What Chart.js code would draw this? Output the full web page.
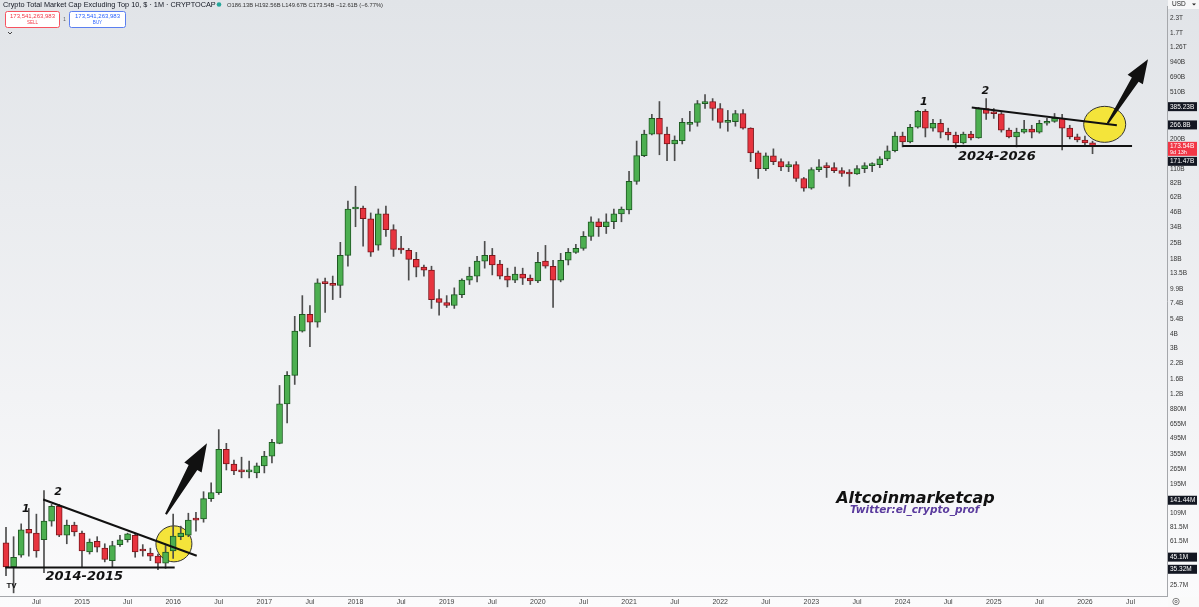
<!DOCTYPE html>
<html lang="en">
<head>
<meta charset="UTF-8">
<title>Crypto Total Market Cap Excluding Top 10</title>
<script src="https://cdn.jsdelivr.net/npm/chart.js"></script>
<style>
  html, body { margin: 0; padding: 0; background: #fff; }
  #wrap { width: 1199px; height: 607px; }
</style>
</head>
<body>
<div id="wrap"><canvas id="chart" width="1199" height="607"></canvas></div>
<script>
// monthly candles, first one is March 2014, values in billions USD
const startYear = 2014;
const startMonth = 3;

const opens = [0.060,0.037,0.047,0.079,0.073,0.064,0.093,0.125,0.070,0.086,0.073,0.050,0.062,0.054,0.042,0.058,0.064,0.070,0.052,0.049,0.046,0.040,0.051,0.068,0.070,0.099,0.097,0.146,0.165,0.394,0.293,0.255,0.250,0.245,0.282,0.343,0.444,0.98,1.74,4.23,5.93,5.06,11.2,11.0,10.6,19.4,49.3,50.2,40.5,23.8,44.7,32.5,21.9,21.5,17.9,15.3,14.4,8.14,7.52,7.09,8.82,11.8,12.8,17.3,19.4,16.3,12.8,11.8,13.3,12.3,11.6,17.3,15.6,11.8,17.6,20.6,22.3,28.4,38.1,34.5,38.1,44.7,48.3,85.8,144,222,304,222,182,194,270,281,410,427,371,281,285,336,250,152,111,143.6,127.5,115,120,91,74.7,108.7,115,113,106.6,100.5,99.5,111,117.6,120,135,158.7,213.7,189.7,254.8,350,250,276,231,218,186,222,205.5,371,336,334,240,209.6,231,245,231,276,287,304,250,209.6,197,186.13];
const highs = [0.082,0.068,0.088,0.120,0.107,0.172,0.130,0.130,0.095,0.091,0.076,0.065,0.068,0.059,0.062,0.070,0.073,0.072,0.058,0.054,0.048,0.057,0.107,0.084,0.109,0.111,0.168,0.201,0.585,0.444,0.317,0.336,0.311,0.299,0.378,0.480,1.42,1.88,5.70,8.64,7.09,12.1,12.3,12.8,25.2,57.7,77.8,52.3,45.5,49.3,52.3,35.9,28.4,22.3,20.6,16.0,15.6,9.75,8.64,10.1,12.1,15.3,19.0,25.7,22.3,17.6,15.0,15.3,15.0,13.1,20.6,23.7,17.6,20.2,22.3,24.2,31.3,42.1,40.5,44.7,49.3,51.3,105,193,240,330,427,255,214,304,350,436,491,453,410,357,357,364,252,158,152,165,135,127.5,127.5,92.9,113,132.7,124.8,124.8,113,108.7,117.6,124.8,124.8,141,175,231,231,270,357,364,298,298,250,231,231,235,379,453,371,343,250,250,293,265,293,304,336,330,265,222,213,192.56];
const lows = [0.031,0.022,0.045,0.046,0.045,0.033,0.084,0.068,0.059,0.069,0.037,0.048,0.050,0.041,0.037,0.056,0.061,0.045,0.046,0.042,0.035,0.036,0.044,0.064,0.068,0.076,0.091,0.138,0.159,0.260,0.236,0.222,0.222,0.222,0.245,0.299,0.44,0.67,1.45,4.15,3.09,4.58,6.17,7.98,8.31,15.6,34.5,23.3,19.0,21.5,28.4,19.0,20.2,11.8,12.6,12.8,6.68,5.82,6.81,6.68,8.31,10.8,11.4,15.0,13.1,12.1,10.3,11.2,10.8,10.8,11.2,15.0,6.81,11.4,16.0,20.2,21.5,26.2,28.4,30.1,33.2,38.1,44.7,80.9,141,218,146.5,130,130,182,235,260,371,293,250,235,260,245,127.5,91,106.6,120,106.6,104.4,85.8,70.4,73.3,104.4,92.9,102.3,94.8,77.8,98.6,102.3,104.4,113,130,155,171.6,186,250,209.6,235,205.5,197,168.2,182,197,204,298,304,231,205.5,171.6,226,205.5,226,265,281,161.7,201.5,189.7,179,149.67];
const closes = [0.037,0.045,0.078,0.073,0.051,0.093,0.125,0.070,0.086,0.075,0.051,0.061,0.055,0.043,0.057,0.064,0.072,0.050,0.051,0.046,0.040,0.050,0.069,0.073,0.095,0.095,0.146,0.165,0.394,0.293,0.255,0.250,0.255,0.282,0.343,0.453,0.980,1.74,4.23,5.93,5.06,11.2,11.0,10.6,19.4,49.3,50.2,40.5,20.7,44.7,32.5,21.9,21.6,17.9,15.3,14.4,7.98,7.52,7.09,8.82,11.8,12.8,17.3,19.4,16.0,12.8,11.8,13.3,12.3,11.6,16.9,15.6,11.8,17.6,20.6,22.3,28.4,38.1,34.5,38.1,44.7,49.3,85.8,144,222,304,222,182,197,281,281,410,427,371,281,285,336,250,152,111,143.6,127.5,115,120,91,74.7,108.7,115,113,106.6,100.5,99.5,111,117.6,120,135,158.7,213.7,189.7,254.8,350,250,276,231,218,186,222,205.5,371,336,334,240,209.6,231,245,231,276,287,304,250,209.6,197,186.13,173.54];

const yTickValues = [2300,1700,1260,940,690,510,200,110,82,62,46,34,25,18,13.5,9.9,7.4,5.4,4,3,2.2,1.6,1.2,0.88,0.655,0.495,0.355,0.265,0.195,0.109,0.0815,0.0615,0.0257];
const yTickLabels = ['2.3T','1.7T','1.26T','940B','690B','510B','200B','110B','82B','62B','46B','34B','25B','18B','13.5B','9.9B','7.4B','5.4B','4B','3B','2.2B','1.6B','1.2B','880M','655M','495M','355M','265M','195M','109M','81.5M','61.5M','25.7M'];

const badgeValues = [385.23, 266.8, 173.54, 171.47, 0.14144, 0.0451, 0.03532];
const badgeLabels = ['385.23B','266.8B','173.54B','171.47B','141.44M','45.1M','35.32M'];
const badgeColors = ['#131722','#131722','#f23645','#131722','#131722','#131722','#131722'];

const UP = '#4caf50', UP_EDGE = '#1e5a22';
const DOWN = '#e8343f', DOWN_EDGE = '#7d161c';

const xTicks = [];
for (let i = 0; i <= 152; i++) {
    const m = (startMonth - 1 + i) % 12;
    if (m === 0 || m === 6) xTicks.push(i);
}
function xLabel(i) {
    const n = startMonth - 1 + i;
    return n % 12 === 0 ? String(startYear + n / 12) : 'Jul';
}

const isUp = closes.map((c, i) => c >= opens[i]);

Chart.defaults.font.family = "'Liberation Sans', Arial, sans-serif";

function arrow(ctx, x1, y1, x2, y2, w0, w1, headLen, headW) {
    const dx = x2 - x1, dy = y2 - y1, len = Math.hypot(dx, dy);
    const ux = dx / len, uy = dy / len, nx = -uy, ny = ux;
    const bx = x2 - ux * headLen, by = y2 - uy * headLen;
    ctx.beginPath();
    ctx.moveTo(x1 + nx * w0, y1 + ny * w0);
    ctx.lineTo(bx + nx * w1, by + ny * w1);
    ctx.lineTo(bx + nx * headW, by + ny * headW);
    ctx.lineTo(x2, y2);
    ctx.lineTo(bx - nx * headW, by - ny * headW);
    ctx.lineTo(bx - nx * w1, by - ny * w1);
    ctx.lineTo(x1 - nx * w0, y1 - ny * w0);
    ctx.closePath();
    ctx.fill();
}

const drawings = {
    id: 'drawings',
    beforeDraw(chart) {
        const ctx = chart.ctx;
        const g = ctx.createLinearGradient(0, 0, 0, chart.height);
        g.addColorStop(0, '#e1e4e8');
        g.addColorStop(1, '#fbfbfc');
        ctx.save();
        ctx.fillStyle = g;
        ctx.fillRect(0, 0, chart.width, chart.height);
        ctx.restore();
    },
    beforeDatasetsDraw(chart) {
        const ctx = chart.ctx, x = chart.scales.x, y = chart.scales.y;
        ctx.save();
        ctx.fillStyle = '#f4e43a';
        ctx.strokeStyle = '#333';
        ctx.lineWidth = 1;
        ctx.beginPath();
        ctx.ellipse(x.getPixelForValue(22.1), y.getPixelForValue(0.0589), 18, 18, 0, 0, Math.PI * 2);
        ctx.fill(); ctx.stroke();
        ctx.beginPath();
        ctx.ellipse(x.getPixelForValue(144.6), y.getPixelForValue(270), 21, 18, 0, 0, Math.PI * 2);
        ctx.fill(); ctx.stroke();
        ctx.restore();
    },
    afterDatasetsDraw(chart) {
        const ctx = chart.ctx, x = chart.scales.x, y = chart.scales.y;
        const P = (i, v) => [x.getPixelForValue(i), y.getPixelForValue(v)];
        ctx.save();
        ctx.strokeStyle = '#111';
        ctx.fillStyle = '#111';
        ctx.lineWidth = 2;
        const seg = (a, b) => {
            ctx.beginPath(); ctx.moveTo(a[0], a[1]); ctx.lineTo(b[0], b[1]); ctx.stroke();
        };
        // 2014-2015 triangle
        seg(P(4.9, 0.1435), P(25.1, 0.0464));
        seg(P(-0.1, 0.0367), P(22.2, 0.0367));
        // 2024-2026 triangle
        seg(P(127.1, 379), P(146.2, 265));
        seg(P(118.0, 175), P(148.2, 175));

        let a = P(21.05, 0.1067), b = P(26.45, 0.444);
        arrow(ctx, a[0], a[1], b[0], b[1], 1, 5, 28, 10);
        a = P(145.0, 276); b = P(150.3, 1000);
        arrow(ctx, a[0], a[1], b[0], b[1], 1, 4, 24, 9);

        ctx.textAlign = 'center';
        ctx.textBaseline = 'middle';
        ctx.font = "italic bold 13px 'DejaVu Sans'";
        let p = P(10.3, 0.0306); ctx.fillText('2014-2015', p[0], p[1]);
        p = P(130.4, 141); ctx.fillText('2024-2026', p[0], p[1]);
        ctx.font = "italic bold 11px 'DejaVu Sans'";
        p = P(2.6, 0.1178); ctx.fillText('1', p[0], p[1]);
        p = P(6.85, 0.168); ctx.fillText('2', p[0], p[1]);
        p = P(120.8, 418); ctx.fillText('1', p[0], p[1]);
        p = P(128.9, 531); ctx.fillText('2', p[0], p[1]);

        ctx.font = "italic bold 16px 'DejaVu Sans'";
        p = P(119.7, 0.146); ctx.fillText('Altcoinmarketcap', p[0], p[1]);
        ctx.fillStyle = '#5b3c9e';
        ctx.font = "italic bold 10.5px 'DejaVu Sans'";
        p = P(119.6, 0.115); ctx.fillText('Twitter:el_crypto_prof', p[0], p[1]);
        ctx.restore();
    },
    afterDraw(chart) {
        const ctx = chart.ctx, y = chart.scales.y, area = chart.chartArea;
        ctx.save();
        // price badges on the right scale
        ctx.textBaseline = 'middle';
        ctx.textAlign = 'left';
        let lastBottom = -100;
        badgeValues.forEach((v, i) => {
            const red = badgeColors[i] === '#f23645';
            const h = red ? 14 : 9;
            let top = y.getPixelForValue(v) - 4.5;
            if (top < lastBottom + 1) top = lastBottom + 1;
            ctx.fillStyle = badgeColors[i];
            ctx.fillRect(area.right + 1, top, 29, h);
            ctx.fillStyle = '#fff';
            ctx.font = '6.5px Liberation Sans';
            ctx.fillText(badgeLabels[i], area.right + 3, top + 4.7);
            if (red) {
                ctx.font = '5.5px Liberation Sans';
                ctx.fillText('9d 13h', area.right + 3, top + 10.5);
            }
            lastBottom = top + h;
        });

        // currency box, settings icon
        ctx.fillStyle = '#f7f7f8';
        ctx.fillRect(area.right + 1, 0, 31, 9);
        ctx.fillStyle = '#222';
        ctx.font = '6.5px Liberation Sans';
        ctx.fillText('USD', area.right + 5, 4.5);
        ctx.beginPath();
        ctx.moveTo(1192, 3.5); ctx.lineTo(1196, 3.5); ctx.lineTo(1194, 5.5); ctx.closePath(); ctx.fill();
        ctx.fillStyle = '#fafafa';
        ctx.fillRect(area.right + 1, area.bottom + 1, 31, 11);
        ctx.strokeStyle = '#666';
        ctx.lineWidth = 0.8;
        ctx.beginPath(); ctx.arc(1176, 601.5, 3.2, 0, Math.PI * 2); ctx.stroke();
        ctx.beginPath(); ctx.arc(1176, 601.5, 1.2, 0, Math.PI * 2); ctx.stroke();

        // header
        ctx.fillStyle = '#131722';
        ctx.font = '7.3px Liberation Sans';
        ctx.fillText('Crypto Total Market Cap Excluding Top 10, $ \u00b7 1M \u00b7 CRYPTOCAP', 3, 5);
        ctx.fillStyle = '#26a69a';
        ctx.beginPath(); ctx.arc(219, 4.5, 2.3, 0, Math.PI * 2); ctx.fill();
        ctx.fillStyle = '#333';
        ctx.font = '5.8px Liberation Sans';
        ctx.fillText('O186.13B H192.56B L149.67B C173.54B \u221212.61B (\u22126.77%)', 227, 5);

        ctx.lineWidth = 1;
        ctx.fillStyle = '#fff';
        ctx.strokeStyle = '#f7525f';
        ctx.beginPath(); ctx.roundRect(5.5, 11.5, 54, 16, 2); ctx.fill(); ctx.stroke();
        ctx.strokeStyle = '#5b7ff0';
        ctx.beginPath(); ctx.roundRect(69.5, 11.5, 56, 16, 2); ctx.fill(); ctx.stroke();
        ctx.textAlign = 'center';
        ctx.font = '6px Liberation Sans';
        ctx.fillStyle = '#f23645';
        ctx.fillText('173,541,263,983', 32.5, 16.5);
        ctx.font = '4.5px Liberation Sans';
        ctx.fillText('SELL', 32.5, 23);
        ctx.fillStyle = '#2962ff';
        ctx.font = '6px Liberation Sans';
        ctx.fillText('173,541,263,983', 97.5, 16.5);
        ctx.font = '4.5px Liberation Sans';
        ctx.fillText('BUY', 97.5, 23);
        ctx.fillStyle = '#555';
        ctx.fillText('1', 64.5, 19.5);
        ctx.strokeStyle = '#444';
        ctx.beginPath(); ctx.moveTo(8, 32); ctx.lineTo(10, 34); ctx.lineTo(12, 32); ctx.stroke();

        // tradingview mark
        ctx.fillStyle = '#111';
        ctx.font = 'bold 8px Liberation Sans';
        ctx.fillText('TV', 11.5, 586);
        ctx.restore();
    }
};

const ctx = document.getElementById('chart').getContext('2d');
new Chart(ctx, {
    type: 'bar',
    data: {
        datasets: [{
            label: 'wick',
            data: opens.map((o, i) => ({ x: i, y: [lows[i], highs[i]] })),
            backgroundColor: '#4d4d4d',
            barThickness: 1,
            grouped: false,
            order: 2
        }, {
            label: 'body',
            data: opens.map((o, i) => ({ x: i, y: [o, closes[i]] })),
            backgroundColor: isUp.map(u => u ? UP : DOWN),
            borderColor: isUp.map(u => u ? UP_EDGE : DOWN_EDGE),
            borderWidth: 1,
            borderSkipped: false,
            barThickness: 6,
            minBarLength: 2,
            grouped: false,
            order: 1
        }]
    },
    options: {
        responsive: false,
        animation: false,
        events: [],
        layout: { padding: 0 },
        plugins: { legend: { display: false }, tooltip: { enabled: false } },
        scales: {
            x: {
                type: 'linear',
                bounds: 'data',
                offset: false,
                min: -0.79,
                max: 152.8,
                grid: { display: false, drawTicks: false },
                border: { display: true, color: '#a5a7ab' },
                afterBuildTicks: s => { s.ticks = xTicks.map(v => ({ value: v })); },
                afterFit: s => { s.height = 11; },
                ticks: {
                    autoSkip: false,
                    maxRotation: 0,
                    padding: 2,
                    color: '#444',
                    font: { size: 7 },
                    callback: v => xLabel(v)
                }
            },
            y: {
                type: 'logarithmic',
                position: 'right',
                bounds: 'data',
                min: 0.02065,
                max: 2860,
                grid: { display: false, drawTicks: false },
                border: { display: true, color: '#a5a7ab' },
                afterBuildTicks: s => { s.ticks = yTickValues.map(v => ({ value: v })); },
                afterFit: s => { s.width = 32; },
                ticks: {
                    autoSkip: false,
                    padding: 3,
                    color: '#333',
                    font: { size: 6.5 },
                    callback: (v, i) => yTickLabels[i]
                }
            }
        }
    },
    plugins: [drawings]
});
</script>
</body>
</html>
